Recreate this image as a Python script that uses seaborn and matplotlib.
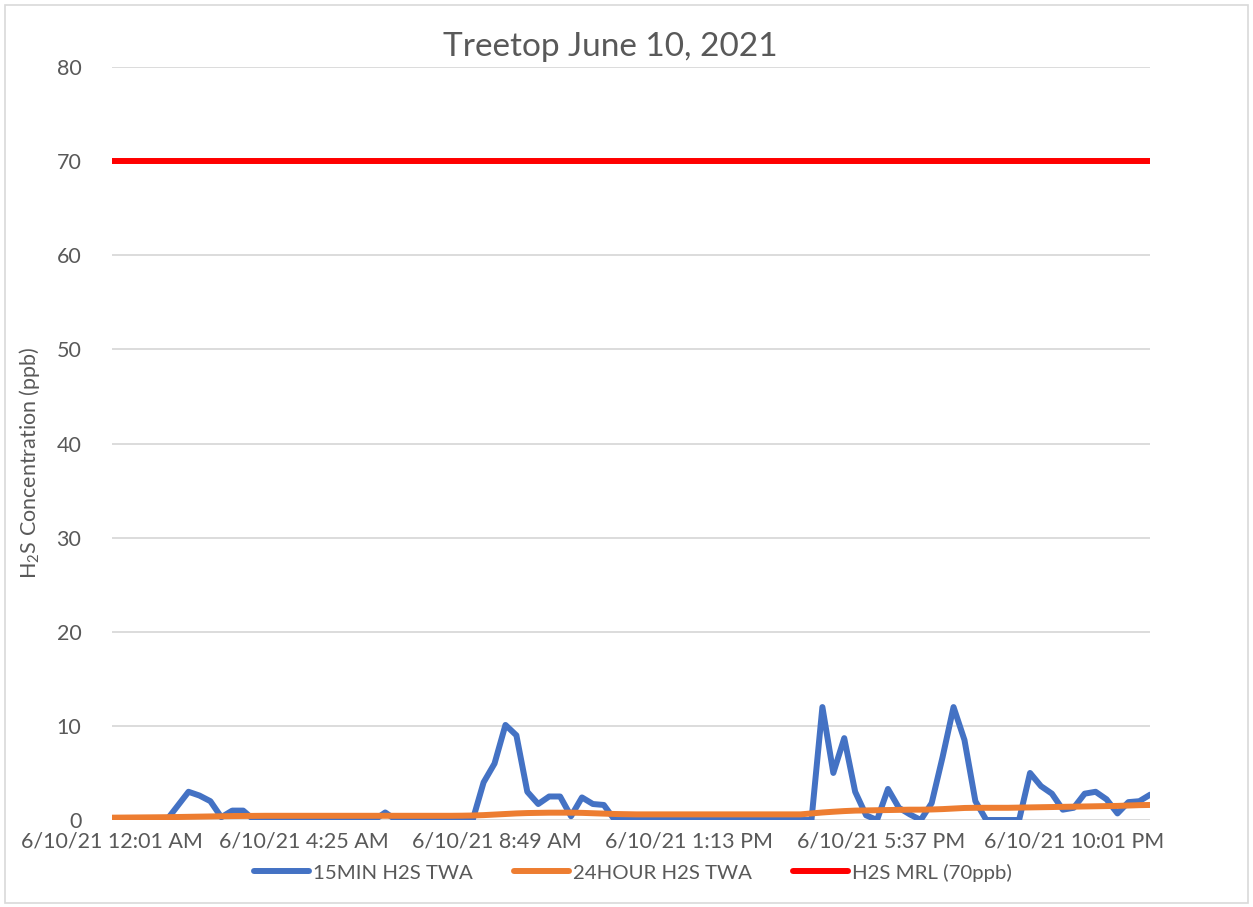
import matplotlib
matplotlib.use('Agg')
import matplotlib.pyplot as plt
import seaborn as sns
import pandas as pd
from matplotlib.patches import Rectangle

# 15-minute readings, 6/10/21 12:01 AM onwards
times = pd.date_range('2021-06-10 00:01', periods=96, freq='15min')

twa_15min = [0, 0, 0, 0, 0, 0, 1.5, 3.0, 2.6, 2.0,
             0.3, 1.0, 1.0, 0, 0, 0, 0, 0, 0, 0,
             0, 0, 0, 0, 0, 0.8, 0, 0, 0, 0,
             0, 0, 0, 0, 4.0, 6.0, 10.1, 9.0, 3.0, 1.7,
             2.5, 2.5, 0.4, 2.4, 1.7, 1.6, 0, 0, 0, 0,
             0, 0, 0, 0, 0, 0, 0, 0, 0, 0,
             0, 0, 0, 0, 0, 12.0, 5.0, 8.7, 3.0, 0.5,
             0, 3.3, 1.3, 0.6, 0, 1.8, 6.7, 12.0, 8.5, 2.0,
             0, 0, 0, 0, 5.0, 3.6, 2.8, 1.1, 1.3, 2.8,
             3.0, 2.2, 0.7, 1.9, 2.0, 2.7]

twa_24hour = [0.25, 0.26, 0.27, 0.28, 0.29, 0.3, 0.32, 0.34, 0.36, 0.38,
              0.4, 0.42, 0.43, 0.44, 0.45, 0.45, 0.45, 0.45, 0.45, 0.45,
              0.45, 0.45, 0.45, 0.45, 0.45, 0.45, 0.45, 0.45, 0.45, 0.45,
              0.45, 0.45, 0.46, 0.48, 0.52, 0.58, 0.64, 0.7, 0.74, 0.76,
              0.78, 0.78, 0.78, 0.76, 0.72, 0.68, 0.64, 0.62, 0.6, 0.6,
              0.6, 0.6, 0.6, 0.6, 0.6, 0.6, 0.6, 0.6, 0.6, 0.6,
              0.6, 0.6, 0.6, 0.6, 0.7, 0.8, 0.88, 0.95, 1.0, 1.02,
              1.04, 1.06, 1.08, 1.1, 1.1, 1.12, 1.16, 1.22, 1.28, 1.3,
              1.3, 1.3, 1.3, 1.32, 1.34, 1.36, 1.38, 1.4, 1.42, 1.44,
              1.46, 1.48, 1.5, 1.54, 1.58, 1.6]

mrl = [70] * 96

series_names = ['15MIN H2S TWA', '24HOUR H2S TWA', 'H2S MRL (70ppb)']
series_colors = ['#4472C4', '#ED7D31', '#FF0000']

tick_times = pd.to_datetime(['2021-06-10 00:01', '2021-06-10 04:25', '2021-06-10 08:49',
                             '2021-06-10 13:13', '2021-06-10 17:37', '2021-06-10 22:01'])
tick_labels = ['6/10/21 12:01 AM', '6/10/21 4:25 AM', '6/10/21 8:49 AM',
               '6/10/21 1:13 PM', '6/10/21 5:37 PM', '6/10/21 10:01 PM']

df = pd.DataFrame({'time': times,
                   series_names[0]: twa_15min,
                   series_names[1]: twa_24hour,
                   series_names[2]: mrl})
long = df.melt(id_vars='time', var_name='series', value_name='ppb')

sns.set_style('white')
plt.rcParams['font.family'] = ['Lato', 'DejaVu Sans']
plt.rcParams['mathtext.fontset'] = 'custom'
plt.rcParams['mathtext.rm'] = 'Lato'
plt.rcParams['mathtext.it'] = 'Lato'
grey = '#595959'

fig = plt.figure(figsize=(12.53, 9.07), dpi=100)
ax = fig.add_axes([0.0894, 0.0959, 0.8286, 0.8302])

sns.lineplot(data=long, x='time', y='ppb', hue='series', hue_order=series_names,
             palette=series_colors, linewidth=4.3, ax=ax, legend=False,
             solid_capstyle='round', solid_joinstyle='round')

ax.set_xlim(times[0], times[-1])
ax.set_ylim(0, 80)
ax.set_yticks(range(0, 81, 10))
ax.set_xticks(tick_times)
ax.set_xticklabels(tick_labels)
ax.tick_params(axis='both', length=0, labelsize=15.5, colors=grey)
ax.tick_params(axis='y', pad=22)
ax.tick_params(axis='x', pad=8)
ax.grid(axis='y', color='#d9d9d9', linewidth=1.3)
ax.set_axisbelow(True)
for s in ax.spines.values():
    s.set_visible(False)

ax.set_xlabel('')
ax.set_ylabel('H$_2$S Concentration (ppb)', fontsize=15.5, color=grey)
ax.yaxis.set_label_coords(-0.067, 0.475)
fig.text(0.487, 0.948, 'Treetop June 10, 2021', ha='center', va='center',
         fontsize=24, color=grey)

handles = [plt.Line2D([], [], color=c, linewidth=4.3, solid_capstyle='round')
           for c in series_colors]
fig.legend(handles, series_names, loc='center', bbox_to_anchor=(0.505, 0.038),
           ncol=3, frameon=False, fontsize=14.7, labelcolor=grey,
           handlelength=2.7, handletextpad=0.2, columnspacing=2.0)

fig.patches.append(Rectangle((0.004, 0.004), 0.992, 0.99, transform=fig.transFigure,
                             fill=False, edgecolor='#d9d9d9', linewidth=1.2))

plt.savefig('out.png', dpi=100)
